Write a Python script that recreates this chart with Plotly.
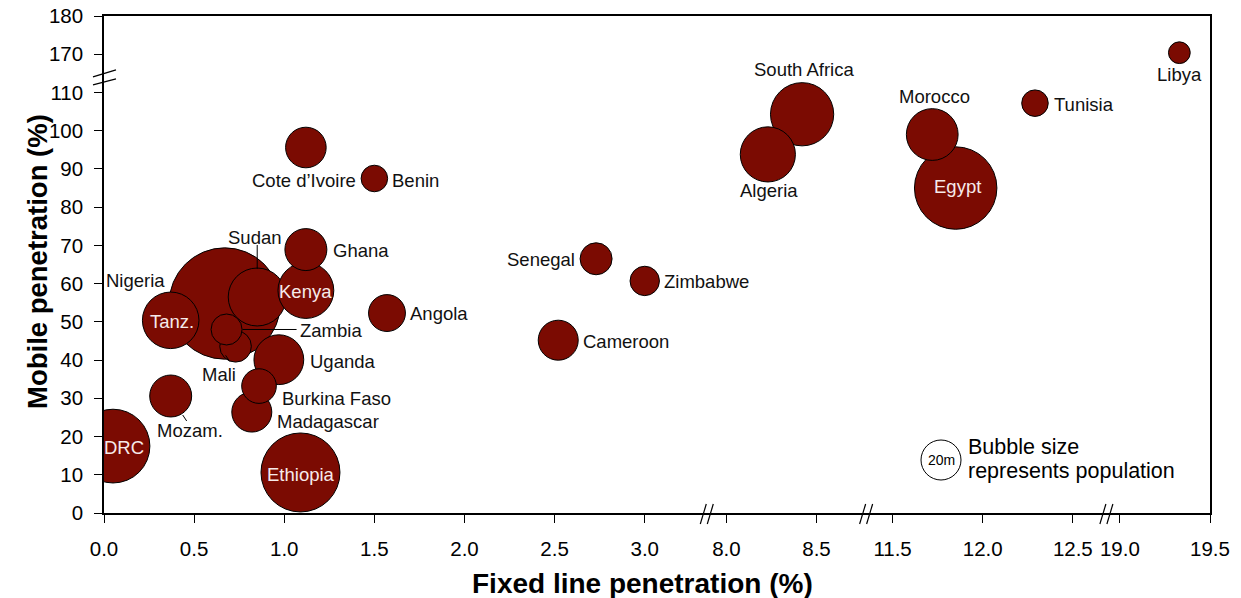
import numpy as np
import plotly.graph_objects as go

# ---------------- data ----------------
countries = ["DRC", "Ethiopia", "Mozam.", "Madagascar", "Burkina Faso", "Uganda",
             "Mali", "Zambia", "Nigeria", "Tanz.", "Sudan", "Kenya", "Ghana", "Angola",
             "Cote d\u2019Ivoire", "Benin", "Senegal", "Zimbabwe", "Cameroon",
             "South Africa", "Algeria", "Morocco", "Egypt", "Tunisia", "Libya"]
fixed_line = [0.05, 1.09, 0.37, 0.82, 0.86, 0.97,
              0.73, 0.68, 0.67, 0.37, 0.85, 1.12, 1.12, 1.57,
              1.12, 1.50, 2.73, 3.00, 2.52,
              8.42, 8.23, 11.72, 11.85, 12.29, 19.33]
mobile = [17.5, 10.6, 30.6, 26.4, 33.2, 40.1,
          43.6, 48.0, 54.8, 50.4, 56.5, 58.2, 68.9, 52.3,
          95.6, 87.5, 66.5, 60.7, 45.2,
          104.3, 93.8, 99.0, 85.0, 107.2, 170.4]
population_m = [68, 78, 22, 20, 15, 31,
                12.5, 12.0, 155, 40, 42, 39, 22, 17,
                20.6, 8.8, 12.8, 10.8, 20,
                50, 38, 33.5, 85, 8.8, 5.9]

x_tick_values = [0.0, 0.5, 1.0, 1.5, 2.0, 2.5, 3.0, 8.0, 8.5, 11.5, 12.0, 12.5, 19.0, 19.5]
y_tick_values = [0, 10, 20, 30, 40, 50, 60, 70, 80, 90, 100, 110, 170, 180]
legend_pop = 20  # "20m" reference bubble

# ---------------- broken-axis mapping ----------------
def fx(v):
    if v <= 3.5:
        return v
    if v <= 9.5:
        return v - 4.547
    if v <= 13.5:
        return v - 7.125
    return v - 13.364

def fy(v):
    return v if v <= 115 else v - 50

X_RANGE = [0, 6.136]
Y_RANGE = [0, 130]
X_BREAKS = [3.347, 4.231, 5.564]
Y_BREAK = 113.8

W, H = 1241, 598
ML, MR, MT, MB = 104, 31, 16, 85
PW, PH = W - ML - MR, H - MT - MB

def paper_x(px):
    return (px - ML) / PW

def paper_y(py):
    return (H - MB - py) / PH

FONT = "Liberation Sans, Arial, sans-serif"
BUBBLE = "#7b0b02"
INNER_TXT = "#f6eaea"

# bubble size: 20m -> 40 px diameter, area proportional to population
pop = np.array(population_m, dtype=float)
diam = 40.0 * np.sqrt(pop / legend_pop)

xs = np.array([fx(v) for v in fixed_line])
ys = np.array([fy(v) for v in mobile])

order = sorted(range(len(countries)), key=lambda i: -population_m[i])

fig = go.Figure()
fig.add_trace(go.Scatter(
    x=xs[order], y=ys[order], mode="markers",
    marker=dict(size=diam[order], sizemode="diameter", sizeref=1,
                color=BUBBLE, opacity=1, line=dict(color="black", width=1)),
    hoverinfo="skip", showlegend=False, cliponaxis=True,
))

# ---------------- labels ----------------
# name: (xshift px, yshift px, xanchor, inside?)
label_pos = {
    "DRC": (11, -1, "center", True),
    "Ethiopia": (1, -2, "center", True),
    "Mozam.": (19, -34, "center", False),
    "Madagascar": (23, -9, "left", False),
    "Burkina Faso": (21, -12, "left", False),
    "Uganda": (29, -2, "left", False),
    "Mali": (-17, -28, "center", False),
    "Zambia": (71, -1, "left", False),
    "Nigeria": (-58, 23, "right", False),
    "Tanz.": (1, -1, "center", True),
    "Sudan": (-2, 60, "center", False),
    "Kenya": (0, -1, "center", True),
    "Ghana": (25, -1, "left", False),
    "Angola": (21, 0, "left", False),
    "Cote d\u2019Ivoire": (52, -33, "right", False),
    "Benin": (16, -2, "left", False),
    "Senegal": (-19, -1, "right", False),
    "Zimbabwe": (17, -1, "left", False),
    "Cameroon": (23, -1, "left", False),
    "South Africa": (2, 45, "center", False),
    "Algeria": (1, -36, "center", False),
    "Morocco": (2, 38, "center", False),
    "Egypt": (2, 2, "center", True),
    "Tunisia": (17, -1, "left", False),
    "Libya": (0, -22, "center", False),
}

annotations = []
for i, name in enumerate(countries):
    dx, dy, anc, inside = label_pos[name]
    annotations.append(dict(
        x=xs[i], y=ys[i], xref="x", yref="y", text=name, showarrow=False,
        xanchor=anc, yanchor="middle", xshift=dx, yshift=dy,
        font=dict(family=FONT, size=18.5, color=INNER_TXT if inside else "#111111"),
    ))

# leader lines anchored on bubbles (pixel offsets, y up)
leaders = {
    "Sudan": (0, 28, 0, 52),
    "Zambia": (16, 0, 70, 0),
    "Mali": (-10, -9, -6, -15),
    "Mozam.": (12, -19, 16, -25),
}
shapes = []
for name, (x0, y0, x1, y1) in leaders.items():
    i = countries.index(name)
    shapes.append(dict(type="line", xref="x", yref="y",
                       xsizemode="pixel", ysizemode="pixel",
                       xanchor=xs[i], yanchor=ys[i],
                       x0=x0, x1=x1, y0=y0, y1=y1,
                       line=dict(color="black", width=1)))

# axis break marks
def frac_x(v):
    return (v - X_RANGE[0]) / (X_RANGE[1] - X_RANGE[0])

def frac_y(v):
    return (v - Y_RANGE[0]) / (Y_RANGE[1] - Y_RANGE[0])

for xb in X_BREAKS:
    for (a0, b0, a1, b1) in [(-7, -11, -1, 9), (0, -11, 6, 9)]:
        shapes.append(dict(type="line", xref="paper", yref="paper",
                           xsizemode="pixel", ysizemode="pixel",
                           xanchor=frac_x(xb), yanchor=0,
                           x0=a0, x1=a1, y0=b0, y1=b1,
                           line=dict(color="black", width=1.2)))
for (a0, b0, a1, b1) in [(-11, 1, 12, 8), (-11, -7, 12, -1)]:
    shapes.append(dict(type="line", xref="paper", yref="paper",
                       xsizemode="pixel", ysizemode="pixel",
                       xanchor=0, yanchor=frac_y(Y_BREAK),
                       x0=a0, x1=a1, y0=b0, y1=b1,
                       line=dict(color="black", width=1.2)))

# size key bubble
key_px, key_py = 941, 460
shapes.append(dict(type="circle", xref="paper", yref="paper",
                   xsizemode="pixel", ysizemode="pixel",
                   xanchor=paper_x(key_px), yanchor=paper_y(key_py),
                   x0=-20, x1=20, y0=-20, y1=20,
                   line=dict(color="black", width=1), fillcolor="white"))
annotations.append(dict(x=paper_x(key_px), y=paper_y(key_py), xref="paper", yref="paper",
                        text="%dm" % legend_pop, showarrow=False, xanchor="center", yanchor="middle",
                        font=dict(family=FONT, size=14, color="black")))
for line_txt, ly in [("Bubble size", 447), ("represents population", 471)]:
    annotations.append(dict(x=paper_x(966), y=paper_y(ly), xref="paper", yref="paper",
                            text=line_txt, showarrow=False,
                            xanchor="left", yanchor="middle", align="left",
                            font=dict(family=FONT, size=21.5, color="black")))

# axis titles
annotations.append(dict(x=paper_x(642), y=paper_y(583), xref="paper", yref="paper",
                        text="<b>Fixed line penetration (%)</b>", showarrow=False,
                        xanchor="center", yanchor="middle",
                        font=dict(family=FONT, size=28, color="black")))
annotations.append(dict(x=paper_x(37), y=paper_y(262), xref="paper", yref="paper",
                        text="<b>Mobile penetration (%)</b>", showarrow=False, textangle=-90,
                        xanchor="center", yanchor="middle",
                        font=dict(family=FONT, size=27.5, color="black")))

axis_common = dict(showgrid=False, zeroline=False, showline=True, linecolor="black",
                   linewidth=1.5, mirror=True, ticks="outside", ticklen=8, tickwidth=1,
                   tickcolor="black", automargin=False,
                   tickfont=dict(family=FONT, size=20.5, color="black"))

fig.update_layout(
    width=W, height=H,
    margin=dict(l=ML, r=MR, t=MT, b=MB, autoexpand=False),
    paper_bgcolor="white", plot_bgcolor="white",
    showlegend=False,
    annotations=annotations, shapes=shapes,
    font=dict(family=FONT, color="black"),
    xaxis=dict(range=X_RANGE, tickmode="array",
               tickvals=[fx(v) for v in x_tick_values],
               ticktext=["%.1f" % v for v in x_tick_values],
               ticklabelstandoff=9, **axis_common),
    yaxis=dict(range=Y_RANGE, tickmode="array",
               tickvals=[fy(v) for v in y_tick_values],
               ticktext=[str(v) for v in y_tick_values],
               ticklabelstandoff=7, **axis_common),
)

fig.write_html("out.html", config={"displayModeBar": False},
               post_script="document.body.style.margin='0px';document.body.style.padding='0px';")
